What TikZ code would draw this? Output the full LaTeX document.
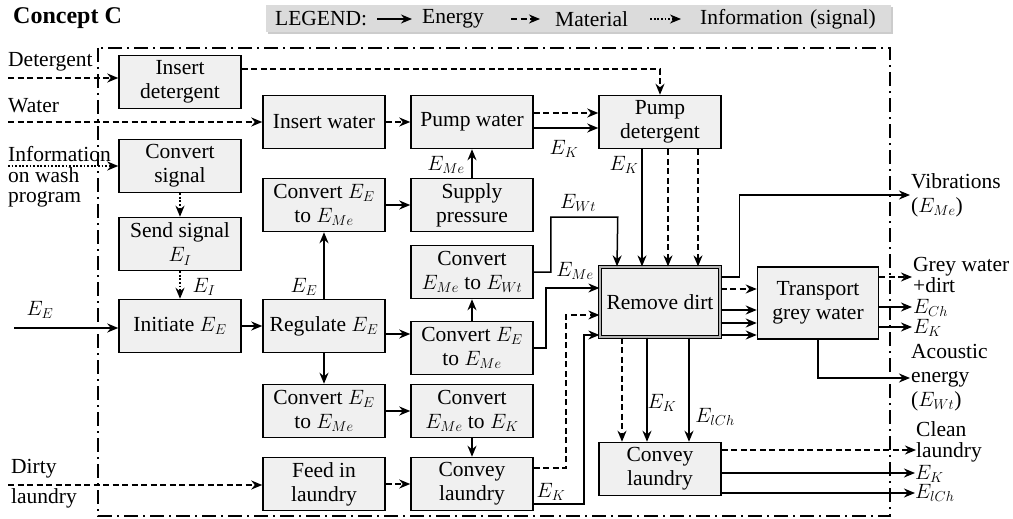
\documentclass[tikz,border=0pt]{standalone}
\usepackage{fontspec}
\setmainfont{Liberation Serif}
\usetikzlibrary{arrows.meta,shadows}

\begin{document}
\begin{tikzpicture}[x=1pt, y=-1pt,
  every node/.style={font=\fontsize{21.5}{24}\selectfont},
  func/.style={rectangle, draw, line width=1.5pt, fill=black!6, minimum width=122pt,
               minimum height=53pt, align=center, inner sep=1pt},
  lbl/.style={inner sep=1pt},
  en/.style={line width=1.5pt, -{Stealth[length=11pt,width=9pt,inset=3.5pt]}},
  mat/.style={en, dash pattern=on 6pt off 3.5pt},
  inf/.style={en, dash pattern=on 1.8pt off 1.8pt},
  bnd/.style={line width=1.5pt, dash pattern=on 14pt off 5pt on 2pt off 5pt}
]
  \useasboundingbox (0,0) rectangle (1013,519);

  % Titel und Legende
  \node[lbl, anchor=west, font=\fontsize{24}{28}\selectfont\bfseries] (title) at (12,18) {Concept C};
  \node[fill=black!14, drop shadow={shadow xshift=2pt, shadow yshift=-2pt, opacity=.4},
        minimum width=625pt, minimum height=27pt, inner sep=0pt] (legend) at (578,19) {};
  \node[lbl, anchor=west] (lgA) at (274,19) {LEGEND:};
  \node[lbl, anchor=west] (lgB) at (421,19) {Energy};
  \node[lbl, anchor=west] (lgC) at (554,19) {Material};
  \node[lbl, anchor=west] (lgD) at (699,19) {Information\,\,(signal)};
  \draw[en, line width=1.2pt] ([xshift=9]lgA.east) -- ([xshift=-9]lgB.west);
  \draw[mat, line width=1.2pt] ([xshift=26]lgB.east) -- ([xshift=-14]lgC.west);
  \draw[inf, line width=1.2pt] ([xshift=21]lgC.east) -- ([xshift=-18]lgD.west);

  % Systemgrenze
  \draw[bnd] (98,48) rectangle (890,516);

  % Funktionen
  \node[func] (insDet) at (180,82) {Insert\\detergent};
  \node[func] (cvSig) at (180,166) {Convert\\signal};
  \node[func] (sendSig) at (180,244) {Send signal\\$E_I$};
  \node[func] (init) at (180,326) {Initiate $E_E$};
  \node[func] (insWat) at (324,122) {Insert water};
  \node[func] (pumpWat) at (472,122) {Pump water};
  \node[func] (pumpDet) at (660,122) {Pump\\detergent};
  \node[func] (cvA) at (324,205) {Convert $E_E$\\to $E_{Me}$};
  \node[func] (supply) at (472,205) {Supply\\pressure};
  \node[func] (cvWt) at (472,272) {Convert\\$E_{Me}$ to $E_{Wt}$};
  \node[func] (reg) at (324,326) {Regulate $E_E$};
  \node[func] (cvB) at (472,348) {Convert $E_E$\\to $E_{Me}$};
  \node[func] (cvC) at (324,411) {Convert $E_E$\\to $E_{Me}$};
  \node[func] (cvK) at (472,411) {Convert\\$E_{Me}$ to $E_K$};
  \node[func] (feed) at (324,484) {Feed in\\laundry};
  \node[func] (conveyL) at (472,484) {Convey\\laundry};
  \node[func, double=black!30, double distance=1.6pt, line width=1.2pt,
        minimum width=120pt, minimum height=70pt] (remove) at (660,302) {Remove dirt};
  \node[func, minimum width=121pt, minimum height=72pt] (transport) at (818,303) {Transport\\grey water};
  \node[func] (conveyR) at (660,469) {Convey\\laundry};

  % Eingaenge
  \node[lbl, anchor=west] (tDet) at (7,62) {Detergent};
  \node[lbl, anchor=west] (tWat) at (7,106) {Water};
  \node[lbl, anchor=west, align=left, font=\fontsize{21.5}{20.5}\selectfont] (tInf) at (7,177) {Information\\on wash\\program};
  \node[lbl] (tEE) at (40,310) {$E_E$};
  \node[lbl, anchor=west] (tDirty) at (10,469) {Dirty};
  \node[lbl, anchor=west] (tLaundry) at (10,498) {laundry};
  \coordinate (inDet) at (8,78);
  \coordinate (inWat) at (8,122);
  \coordinate (inInf) at (8,166);
  \coordinate (inEE) at (14,328);
  \coordinate (inDirty) at (8,485);
  \draw[mat] (inDet) -- (inDet -| insDet.west);
  \draw[mat] (inWat) -- (inWat -| insWat.west);
  \draw[inf] (inInf) -- (inInf -| cvSig.west);
  \draw[en] (inEE) -- (inEE -| init.west);
  \draw[mat] (inDirty) -- (inDirty -| feed.west);

  % Ausgaenge
  \node[lbl, anchor=west, align=left] (outVib) at (910,195) {Vibrations\\($E_{Me}$)};
  \node[lbl, anchor=west, align=left, font=\fontsize{21.5}{16.5}\selectfont] (outGrey) at (912,275) {Grey water\\+dirt};
  \node[lbl, anchor=west] (outECh) at (912,308) {$E_{Ch}$};
  \node[lbl, anchor=west] (outEK) at (912,328) {$E_K$};
  \node[lbl, anchor=west, align=left] (outAc) at (910,378) {Acoustic\\energy\\($E_{Wt}$)};
  \node[lbl, anchor=west, align=left, inner sep=0pt, font=\fontsize{21.5}{20.5}\selectfont] (outClean) at (916,442) {Clean\\laundry};
  \node[lbl, anchor=west, inner sep=0pt] (outEK2) at (915,474) {$E_K$};
  \node[lbl, anchor=west, inner sep=0pt] (outElCh) at (915,493) {$E_{lCh}$};

  % Fluesse
  \draw[mat] ([yshift=13]insDet.east) -| (pumpDet.north);
  \draw[mat] (insWat.east) -- (pumpWat.west);
  \draw[mat] ([yshift=9]pumpWat.east) -- ([yshift=9]pumpWat.east -| pumpDet.west);
  \draw[en] ([yshift=-6]pumpWat.east) -- ([yshift=-6]pumpWat.east -| pumpDet.west);
  \draw[inf] (cvSig.south) -- (sendSig.north);
  \draw[inf] (sendSig.south) -- (init.north);
  \draw[en] (init.east) -- (reg.west);
  \draw[en] (reg.north) -- (cvA.south);
  \draw[en] (cvA.east) -- (supply.west);
  \draw[en] (supply.north) -- (pumpWat.south);
  \draw[en] ([yshift=-8]reg.east) -- ([yshift=-8]reg.east -| cvB.west);
  \draw[en] (cvB.north) -- (cvWt.south);
  \draw[en] (reg.south) -- (cvC.north);
  \draw[en] (cvC.east) -- (cvK.west);
  \draw[en] (cvK.south) -- (conveyL.north);
  \draw[mat] (feed.east) -- (conveyL.west);

  % in Remove dirt
  \draw[en] (cvWt.east) -- ++(17,0) |- ++(67,-55) -- ([xshift=-43]remove.north);
  \draw[en] ([xshift=-18]pumpDet.south) -- ([xshift=-18]remove.north);
  \draw[mat] ([xshift=8]pumpDet.south) -- ([xshift=8]remove.north);
  \draw[mat] ([xshift=38]pumpDet.south) -- ([xshift=38]remove.north);
  \draw[en] (cvB.east) -- ++(12,0) |- ([yshift=14]remove.west);
  \draw[mat] ([yshift=16]conveyL.east) -- ++(32,0) |- ([yshift=-13]remove.west);
  \draw[en] ([yshift=-20]conveyL.east) -- ++(50,0) |- ([yshift=-33]remove.west);

  % aus Remove dirt
  \draw[en] ([yshift=25]remove.east) -- ++(19,0) |- (outVib.west);
  \draw[mat] ([yshift=13]remove.east) -- ([yshift=13]remove.east -| transport.west);
  \draw[en] ([yshift=-8]remove.east) -- ([yshift=-8]remove.east -| transport.west);
  \draw[en] ([yshift=-21]remove.east) -- ([yshift=-21]remove.east -| transport.west);
  \draw[en] ([yshift=-33]remove.east) -- ([yshift=-33]remove.east -| transport.west);
  \draw[mat] ([xshift=-38]remove.south) -- ([xshift=-38]conveyR.north);
  \draw[en] ([xshift=-13]remove.south) -- ([xshift=-13]conveyR.north);
  \draw[en] ([xshift=29]remove.south) -- ([xshift=29]conveyR.north);

  % aus Transport und Convey
  \draw[mat] ([yshift=26]transport.east) -- ([yshift=26]transport.east -| outGrey.west);
  \draw[en] ([yshift=-4]transport.east) -- ([yshift=-4]transport.east -| outECh.west);
  \draw[en] ([yshift=-24]transport.east) -- ([yshift=-24]transport.east -| outEK.west);
  \draw[en] (transport.south) |- (outAc.west);
  \draw[mat] ([yshift=19]conveyR.east) -- ([yshift=19]conveyR.east -| outClean.west);
  \draw[en] ([yshift=-4]conveyR.east) -- ([yshift=-4]conveyR.east -| outEK2.west);
  \draw[en] ([yshift=-24]conveyR.east) -- ([yshift=-24]conveyR.east -| outElCh.west);

  % Flussbeschriftungen
  \node[lbl] (tEI) at (204,287) {$E_I$};
  \node[lbl] (tEEreg) at (304,287) {$E_E$};
  \node[lbl] (tEMeSup) at (446,165) {$E_{Me}$};
  \node[lbl] (tEKpump) at (564,149) {$E_K$};
  \node[lbl] (tEKdet) at (624,165) {$E_K$};
  \node[lbl] (tEWt) at (578,203) {$E_{Wt}$};
  \node[lbl] (tEMe) at (575,271) {$E_{Me}$};
  \node[lbl] (tEKconv) at (551,492) {$E_K$};
  \node[lbl] (tEKrem) at (662,403) {$E_K$};
  \node[lbl] (tElCh) at (715,417) {$E_{lCh}$};
\end{tikzpicture}
\end{document}
